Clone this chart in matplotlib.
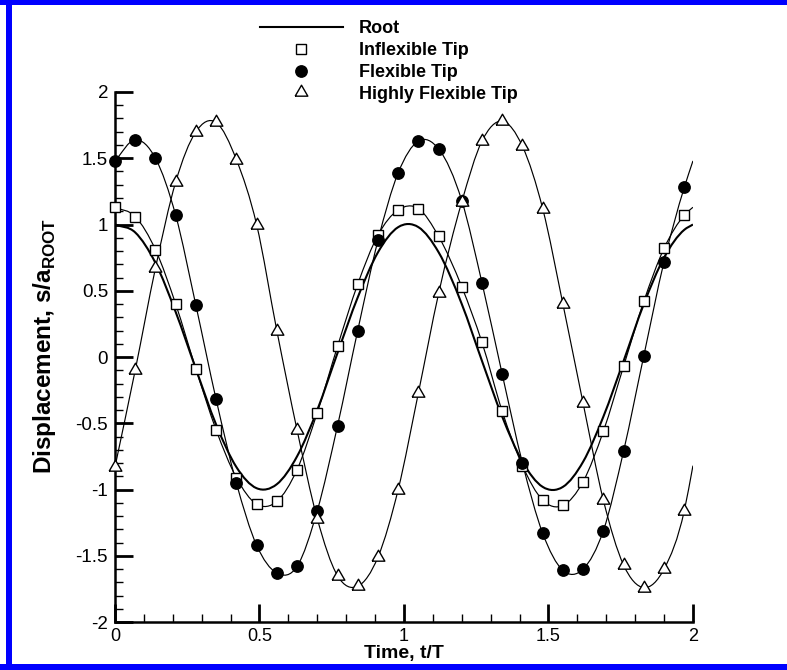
# -*- coding: utf-8 -*-
# Root vs tip displacement over two flapping cycles

#%% Import packages

import numpy as np
import matplotlib
matplotlib.use('Agg')
import matplotlib.pyplot as plt
from matplotlib.path import Path
from matplotlib.patches import PathPatch, Rectangle
from matplotlib.lines import Line2D
from matplotlib.ticker import MultipleLocator

plt.rcParams['font.family'] = ['Liberation Sans', 'DejaVu Sans']
plt.rcParams['mathtext.fontset'] = 'custom'
plt.rcParams['mathtext.rm'] = 'Liberation Sans'
plt.rcParams['mathtext.bf'] = 'Liberation Sans:bold'

#%% Data

# sample times t/T, last entry is the curve end (no symbol there)
time = [0.00, 0.07, 0.14, 0.21, 0.28, 0.35, 0.42, 0.49, 0.56, 0.63,
        0.70, 0.77, 0.84, 0.91, 0.98, 1.05, 1.12, 1.20, 1.27, 1.34,
        1.41, 1.48, 1.55, 1.62, 1.69, 1.76, 1.83, 1.90, 1.97, 2.00]

root = [1.00, 0.94, 0.71, 0.34, -0.09, -0.51, -0.83, -0.99, -0.96, -0.75,
        -0.40, 0.03, 0.45, 0.79, 0.98, 0.98, 0.79, 0.40, -0.03, -0.45,
        -0.79, -0.98, -0.98, -0.79, -0.45, -0.03, 0.40, 0.75, 0.96, 1.00]

inflexible = [1.13, 1.06, 0.81, 0.40, -0.09, -0.55, -0.91, -1.11, -1.09, -0.85,
              -0.42, 0.08, 0.55, 0.92, 1.11, 1.12, 0.91, 0.53, 0.11, -0.41,
              -0.82, -1.08, -1.12, -0.94, -0.56, -0.07, 0.42, 0.82, 1.07, 1.13]

flexible = [1.48, 1.64, 1.50, 1.07, 0.39, -0.32, -0.95, -1.42, -1.63, -1.58,
            -1.16, -0.52, 0.20, 0.88, 1.39, 1.63, 1.57, 1.18, 0.56, -0.13,
            -0.80, -1.33, -1.61, -1.60, -1.31, -0.71, 0.01, 0.72, 1.28, 1.48]

highly_flexible = [-0.83, -0.10, 0.67, 1.32, 1.70, 1.77, 1.49, 1.00, 0.20, -0.55,
                   -1.22, -1.65, -1.73, -1.51, -1.00, -0.27, 0.48, 1.17, 1.63, 1.78,
                   1.59, 1.12, 0.40, -0.35, -1.08, -1.57, -1.74, -1.60, -1.16, -0.82]

labels = ['Root', 'Inflexible Tip', 'Flexible Tip', 'Highly Flexible Tip']

x_ticks = [0, 0.5, 1, 1.5, 2]
x_ticklabels = ['0', '0.5', '1', '1.5', '2']
y_ticks = [-2, -1.5, -1, -0.5, 0, 0.5, 1, 1.5, 2]
y_ticklabels = ['-2', '-1.5', '-1', '-0.5', '0', '0.5', '1', '1.5', '2']

# equilateral triangle symbol (wider than tall, like the original)
TRIANGLE = [(-1, -0.58), (1, -0.58), (0, 1.15), (-1, -0.58)]


#%% Functions

def smooth_path(t, y):
    '''Cubic Hermite curve through the samples (drawing only).'''
    t = np.asarray(t, float)
    y = np.asarray(y, float)
    m = np.gradient(y, t)
    verts = [(t[0], y[0])]
    codes = [Path.MOVETO]
    for i in range(len(t) - 1):
        h = t[i + 1] - t[i]
        verts += [(t[i] + h / 3, y[i] + m[i] * h / 3),
                  (t[i + 1] - h / 3, y[i + 1] - m[i + 1] * h / 3),
                  (t[i + 1], y[i + 1])]
        codes += [Path.CURVE4] * 3
    return Path(verts, codes)


def add_curve(ax, t, y, lw):
    ax.add_patch(PathPatch(smooth_path(t, y), fill=False, lw=lw,
                           edgecolor='black', zorder=2, capstyle='butt'))


#%% Plot

fig = plt.figure(figsize=(7.87, 6.70), dpi=100)
ax = fig.add_axes([0.1461, 0.0716, 0.7344, 0.7911])

add_curve(ax, time, root, 1.5)
add_curve(ax, time, inflexible, 0.85)
add_curve(ax, time, flexible, 0.85)
add_curve(ax, time, highly_flexible, 0.85)

sym = dict(ls='none', color='black', mew=1.0, clip_on=False, zorder=3)
h_sq, = ax.plot(time[:-1], inflexible[:-1], marker='s', ms=7.3,
                mfc='white', label=labels[1], **sym)
h_ci, = ax.plot(time[:-1], flexible[:-1], marker='o', ms=8.2,
                mfc='black', label=labels[2], **sym)
h_tr, = ax.plot(time[:-1], highly_flexible[:-1], marker=TRIANGLE, ms=10.5,
                mfc='white', label=labels[3], **sym)
h_root = Line2D([], [], color='black', lw=1.5, label=labels[0])

# axes styling
ax.set_xlim(0, 2)
ax.set_ylim(-2, 2)
ax.spines[['top', 'right']].set_visible(False)
ax.spines[['left', 'bottom']].set_linewidth(1.8)
ax.set_xticks(x_ticks, x_ticklabels)
ax.set_yticks(y_ticks, y_ticklabels)
ax.xaxis.set_minor_locator(MultipleLocator(0.1))
ax.yaxis.set_minor_locator(MultipleLocator(0.1))
ax.tick_params(which='major', direction='in', length=13, width=2,
               labelsize=13.5)
ax.tick_params(which='minor', direction='in', length=6, width=1)
ax.tick_params(axis='x', which='major', pad=4, labelsize=13)
ax.tick_params(axis='y', which='major', pad=5)

ax.set_xlabel('Time, t/T', fontsize=14, fontweight='bold', labelpad=0)
ax.set_ylabel(r'Displacement, s/a$_{\mathbf{ROOT}}$', fontsize=17.5,
              fontweight='bold')
ax.yaxis.set_label_coords(-0.098, 0.52)

leg = ax.legend(handles=[h_root, h_sq, h_ci, h_tr], loc='upper left',
                bbox_to_anchor=(0.330, 0.970), bbox_transform=fig.transFigure,
                frameon=False, borderpad=0, borderaxespad=0,
                handlelength=4.6, handletextpad=0.9, labelspacing=0.27,
                prop={'size': 13, 'weight': 'bold'})

# blue frame (top, left, bottom)
W, H = 787, 670
frame = dict(transform=fig.transFigure, color='#0000ff', lw=0, zorder=20)
fig.add_artist(Rectangle((0, 1 - 5 / H), 1, 5 / H, **frame))
fig.add_artist(Rectangle((6 / W, 0), 6 / W, 1, **frame))
fig.add_artist(Rectangle((0, 0), 1, 6 / H, **frame))

fig.savefig('out.png', dpi=100)
plt.close(fig)

#%% End of Script
